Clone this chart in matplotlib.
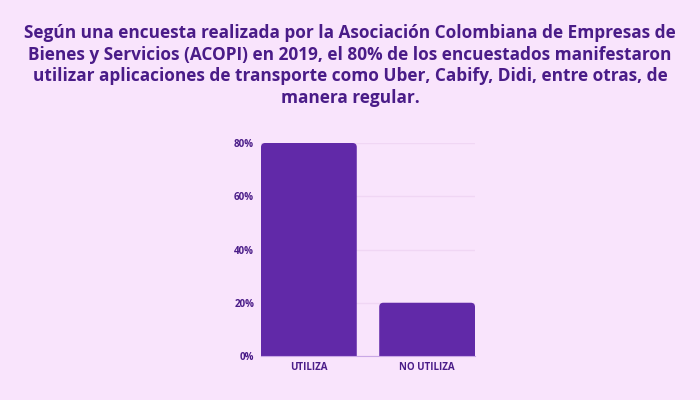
import matplotlib.pyplot as plt
from matplotlib.patches import FancyBboxPatch
from matplotlib.ticker import PercentFormatter

# data
categories = ["UTILIZA", "NO UTILIZA"]
values = [80, 20]
yticks = [0, 20, 40, 60, 80]

title = ("Según una encuesta realizada por la Asociación Colombiana de Empresas de\n"
         "Bienes y Servicios (ACOPI) en 2019, el 80% de los encuestados manifestaron\n"
         "utilizar aplicaciones de transporte como Uber, Cabify, Didi, entre otras, de\n"
         "manera regular.")

bg = "#f9e4fc"
bar_color = "#6129a8"
text_color = "#4a1c88"

fig = plt.figure(figsize=(7, 4), dpi=100, facecolor=bg)
ax = fig.add_axes([261 / 700, 1 - 356 / 400, 214 / 700, 213 / 400])
ax.set_facecolor(bg)

x = range(len(categories))
bars = ax.bar(x, values, width=0.81, color=bar_color, zorder=3)
ax.set_xlim(-0.405, 1.405)
ax.set_ylim(0, 80)

# rounded tops: swap each bar for a rounded box that dips below the axis
aspect = (80 / 213) / (1.81 / 214)
r = 0.035
for b in bars:
    b.set_visible(False)
    ax.add_patch(FancyBboxPatch((b.get_x(), -r * aspect), b.get_width(),
                                b.get_height() + r * aspect,
                                boxstyle=f"round,pad=0,rounding_size={r}",
                                mutation_aspect=aspect, color=bar_color,
                                linewidth=0, zorder=3))

ax.set_xticks(list(x))
ax.set_xticklabels(categories)
ax.set_yticks(yticks)
ax.yaxis.set_major_formatter(PercentFormatter(decimals=0))

ax.grid(axis="y", color="#f0d6f4", linewidth=1, zorder=0)
for s in ["top", "right", "left"]:
    ax.spines[s].set_visible(False)
ax.spines["bottom"].set_color("#c9a8e6")
ax.spines["bottom"].set_zorder(4)
ax.tick_params(length=0, colors=text_color, labelsize=7)
ax.tick_params(axis="y", pad=5)
ax.tick_params(axis="x", pad=4)
for lab in ax.get_xticklabels() + ax.get_yticklabels():
    lab.set_fontweight("bold")
    lab.set_family("Open Sans")

fig.text(0.5, 1 - 65.5 / 400, title, ha="center", va="center", fontsize=12.4,
         fontweight="bold", family="Open Sans", color=text_color, linespacing=1.28)

fig.savefig("out.png", facecolor=bg)
